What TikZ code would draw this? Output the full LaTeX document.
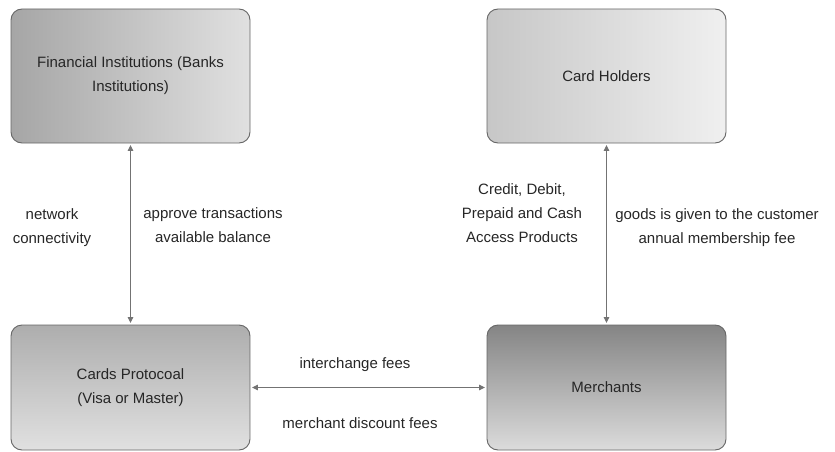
\documentclass[tikz,border=0pt]{standalone}
\usepackage{fontspec}
\setmainfont{Liberation Sans}
\usetikzlibrary{arrows.meta}
\begin{document}
\begin{tikzpicture}[x=1pt,y=-1pt,
  box/.style={draw=black!60, line width=0.9pt, rounded corners=11pt, minimum width=239pt, align=center, font=\fontsize{15}{24}\selectfont, text=black!85},
  conn/.style={draw=black!55, line width=1pt, {Triangle[length=6pt,width=5.5pt]}-{Triangle[length=6pt,width=5.5pt]}, shorten <=1.5pt, shorten >=1.5pt},
  lbl/.style={align=center, font=\fontsize{15}{24}\selectfont, text=black!85}]
\useasboundingbox (0,0) rectangle (835,452);
\node[box, minimum height=134pt, left color=black!35, right color=black!12] (fi) at (130.5,76) {Financial Institutions (Banks\\Institutions)};
\node[box, minimum height=134pt, left color=black!22, right color=black!6] (ch) at (606.5,76) {Card Holders};
\node[box, minimum height=125pt, top color=black!32, bottom color=black!12] (cp) at (130.5,387.5) {Cards Protocoal\\(Visa or Master)};
\node[box, minimum height=125pt, top color=black!48, bottom color=black!14] (me) at (606.5,387.5) {Merchants};
\draw[conn] (fi.south) -- (cp.north);
\draw[conn] (ch.south) -- (me.north);
\draw[conn] (cp.east) -- (me.west);
\node[lbl] (l1) at (52,228) {network\\connectivity};
\node[lbl] (l2) at (213,225) {approve transactions\\available balance};
\node[lbl] (l3) at (522,213) {Credit, Debit,\\Prepaid and Cash\\Access Products};
\node[lbl] (l4) at (717,228) {goods is given to the customer\\annual membership fee};
\node[lbl] (l5) at (355,365) {interchange fees};
\node[lbl] (l6) at (360,423) {merchant discount fees};
\end{tikzpicture}
\end{document}
